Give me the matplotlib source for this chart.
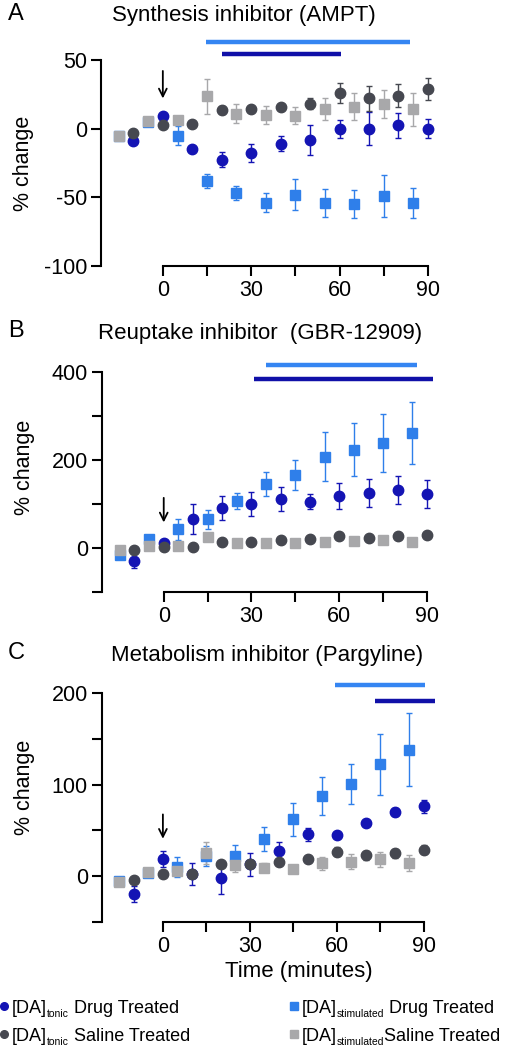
import matplotlib
matplotlib.use("Agg")
import matplotlib.pyplot as plt
from matplotlib.lines import Line2D

plt.rcParams["font.family"] = ["Liberation Sans", "DejaVu Sans"]

W, H = 509, 1050

# ---------------- data ----------------
t_sq = [-15, -5, 5, 15, 25, 35, 45, 55, 65, 75, 85]   # stimulated (squares)
t_ci = [-10, 0, 10, 20, 30, 40, 50, 60, 70, 80, 90]   # tonic (circles)

# A: synthesis inhibitor (AMPT)
a_stim_drug = [-5, 5, -5, -38, -47, -54, -48, -54, -55, -49, -54]
a_stim_drug_err = [2, 2, 7, 5, 5, 7, 11, 10, 10, 15, 11]
a_stim_sal = [-5, 5.5, 6.5, 23.5, 11, 10, 9.5, 14, 16, 18, 14]
a_stim_sal_err = [2, 2, 3, 12.5, 7, 6.5, 6, 8, 10, 10, 12]
a_ton_sal = [-3.5, 3, 3.5, 13.5, 14, 16, 18, 26, 22, 24, 29]
a_ton_sal_err = [2, 2, 2, 3, 2, 2, 4, 7.5, 9, 8.5, 8]
a_ton_drug = [-9, 9, -14.5, -22.5, -17.5, -11, -8, 0, 0, 2.5, 0]
a_ton_drug_err = [2, 2, 2, 5.5, 6.5, 5.5, 11, 6.5, 12, 9, 7]
a_sig_stim = (14.5, 84)
a_sig_ton = (20, 60.5)

# B: reuptake inhibitor (GBR-12909)
b_stim_drug = [-17, 20, 42, 65, 107, 146, 166, 208, 224, 239, 262]
b_stim_drug_err = [3, 3, 23, 22, 19, 27, 34, 56, 61, 66, 71]
b_stim_sal = [-6, 5, 5, 24, 11, 10, 10, 14, 16, 18, 13]
b_stim_sal_err = [3, 3, 3, 8, 3, 3, 3, 3, 3, 3, 5]
b_ton_sal = [-4, 3, 3, 14, 14, 17, 20, 27, 23, 26, 30]
b_ton_sal_err = [3, 3, 3, 3, 3, 3, 3, 3, 3, 3, 3]
b_ton_drug = [-30, 12, 66, 91, 100, 111, 105, 119, 125, 132, 123]
b_ton_drug_err = [15, 3, 34, 28, 28, 27, 17, 30, 32, 32, 31]
b_sig_stim = (35, 86.5)
b_sig_ton = (31, 92)

# C: metabolism inhibitor (Pargyline)
c_stim_drug = [-4.5, 4, 10, 22, 22, 40.5, 62, 87.5, 100.5, 122, 138]
c_stim_drug_err = [2, 2, 11, 11, 12, 13, 18, 21, 22, 33, 40]
c_stim_sal = [-6, 5, 6, 25, 12, 9.5, 8.5, 14.5, 16, 18.5, 14.5]
c_stim_sal_err = [2, 2, 2, 12, 7, 5, 3, 7, 8, 8, 9]
c_ton_sal = [-4, 3, 3, 13.5, 14, 16, 19, 27, 23, 25, 29]
c_ton_sal_err = [2, 2, 2, 2, 2, 2, 2, 5, 5, 5, 5]
c_ton_drug = [-19, 19, 3, -2, 13, 27.5, 46, 45.5, 58, 70, 76.5]
c_ton_drug_err = [9, 9, 12, 17, 13, 10, 7, 2, 2, 4, 7]
c_sig_stim = (59.5, 90.5)
c_sig_ton = (73, 94)

# ---------------- style ----------------
NAVY = "#1414b4"
LBLUE = "#2f7fea"
DGREY = "#464850"
LGREY = "#a8a8aa"
SIG_LB = "#3585f2"
SIG_NV = "#1010a8"
FS = 15.5


def ax_px(fig, left, right, top, bottom):
    return fig.add_axes([left / W, 1 - bottom / H, (right - left) / W, (bottom - top) / H])


def panel(ax, stim_drug, sde, stim_sal, sse, ton_sal, tse, ton_drug, tde,
          sig_stim, sig_ton, sig_y, arrow, xlim, ylim, yspine, yticks, ylabels):
    eb = dict(capsize=2.2, elinewidth=1.0, capthick=1.0, linestyle="none")
    ax.errorbar(t_sq, stim_drug, yerr=sde, marker="s", ms=6.5, color=LBLUE,
                ecolor=LBLUE, zorder=3, **eb)
    ax.errorbar(t_sq, stim_sal, yerr=sse, marker="s", ms=6.5, color=LGREY,
                ecolor=LGREY, zorder=3, **eb)
    ax.errorbar(t_ci, ton_drug, yerr=tde, marker="o", ms=7.5, color=NAVY,
                ecolor=NAVY, zorder=4, **eb)
    ax.errorbar(t_ci, ton_sal, yerr=tse, marker="o", ms=7.5, color=DGREY,
                ecolor=DGREY, zorder=5, **eb)

    # significance bars
    ax.plot(sig_stim, [sig_y[0]] * 2, color=SIG_LB, lw=3.2, solid_capstyle="butt", clip_on=False)
    ax.plot(sig_ton, [sig_y[1]] * 2, color=SIG_NV, lw=3.2, solid_capstyle="butt", clip_on=False)

    # drug injection arrow
    ax.annotate("", xy=(0, arrow[1]), xytext=(0, arrow[0]),
                arrowprops=dict(arrowstyle="->", color="black", lw=1.3,
                                mutation_scale=14, shrinkA=0, shrinkB=0))

    ax.set_xlim(*xlim)
    ax.set_ylim(*ylim)
    for s in ("top", "right"):
        ax.spines[s].set_visible(False)
    for s in ("left", "bottom"):
        ax.spines[s].set_linewidth(1.5)
    ax.spines["bottom"].set_bounds(0, 90)
    ax.spines["left"].set_bounds(*yspine)
    ax.set_xticks([0, 15, 30, 45, 60, 75, 90])
    ax.set_xticklabels(["0", "", "30", "", "60", "", "90"])
    ax.set_yticks(yticks)
    ax.set_yticklabels(ylabels)
    ax.tick_params(axis="both", width=1.5, length=7, labelsize=FS, pad=3)
    ax.set_ylabel("% change", fontsize=FS)
    ax.patch.set_visible(False)


fig = plt.figure(figsize=(W / 100, H / 100), dpi=100)

axA = ax_px(fig, 101, 445.5, 32.5, 266)
panel(axA, a_stim_drug, a_stim_drug_err, a_stim_sal, a_stim_sal_err,
      a_ton_sal, a_ton_sal_err, a_ton_drug, a_ton_drug_err,
      a_sig_stim, a_sig_ton, (63, 54), (42, 22), (-21, 96), (-100, 70), (-100, 50),
      [-100, -50, 0, 50], ["-100", "-50", "0", "50"])
axA.yaxis.set_label_coords(-0.195, 1 - (163 - 32.5) / (266 - 32.5))

axB = ax_px(fig, 101.7, 444.6, 354.9, 591.7)
panel(axB, b_stim_drug, b_stim_drug_err, b_stim_sal, b_stim_sal_err,
      b_ton_sal, b_ton_sal_err, b_ton_drug, b_ton_drug_err,
      b_sig_stim, b_sig_ton, (418, 385), (114, 58), (-21.2, 96), (-100, 440), (-100, 400),
      [-100, 0, 100, 200, 300, 400], ["", "0", "", "200", "", "400"])
axB.yaxis.set_label_coords(-0.195, 1 - (467 - 354.9) / (591.7 - 354.9))

axC = ax_px(fig, 101.7, 441.3, 674.4, 922.3)
panel(axC, c_stim_drug, c_stim_drug_err, c_stim_sal, c_stim_sal_err,
      c_ton_sal, c_ton_sal_err, c_ton_drug, c_ton_drug_err,
      c_sig_stim, c_sig_ton, (208, 191), (67.5, 41), (-21.1, 96), (-50, 220), (-50, 200),
      [-50, 0, 50, 100, 150, 200], ["", "0", "", "100", "", "200"])
axC.yaxis.set_label_coords(-0.195, 1 - (787 - 674.4) / (922.3 - 674.4))
axC.set_xlabel("Time (minutes)", fontsize=16)
axC.xaxis.set_label_coords((299 - 101.7) / (441.3 - 101.7), -(961 - 922.3) / (922.3 - 674.4))

# titles and panel letters
for letter, title, tx, ty in [("A", "Synthesis inhibitor (AMPT)", 244, 16),
                              ("B", "Reuptake inhibitor  (GBR-12909)", 260, 333),
                              ("C", "Metabolism inhibitor (Pargyline)", 267, 655)]:
    fig.text(tx / W, 1 - ty / H, title, ha="center", va="center", fontsize=16)
    fig.text(8 / W, 1 - (ty - 2) / H, letter, ha="left", va="center", fontsize=17)

# legend (built piece by piece so the subscript can be small)
leg = [("o", NAVY, 4, 12, 1007, "tonic", " Drug Treated"),
       ("o", DGREY, 4, 12, 1035, "tonic", " Saline Treated"),
       ("s", LBLUE, 294, 302, 1007, "stimulated", " Drug Treated"),
       ("s", LGREY, 294, 302, 1035, "stimulated", "Saline Treated")]
renderer = fig.canvas.get_renderer()
for mk, col, mx, tx, y, sub, rest in leg:
    fig.add_artist(Line2D([mx / W], [1 - (y - 1) / H], marker=mk, ms=5.5, color=col,
                          linestyle="none", transform=fig.transFigure))
    base = 1 - (y + 6) / H
    t1 = fig.text(tx / W, base, "[DA]", ha="left", va="baseline", fontsize=13)
    x1 = t1.get_window_extent(renderer).x1 / W
    t2 = fig.text(x1, base - 4 / H, sub, ha="left", va="baseline", fontsize=7.5)
    x2 = t2.get_window_extent(renderer).x1 / W
    fig.text(x2, base, rest, ha="left", va="baseline", fontsize=13)

fig.savefig("out.png", dpi=100)
